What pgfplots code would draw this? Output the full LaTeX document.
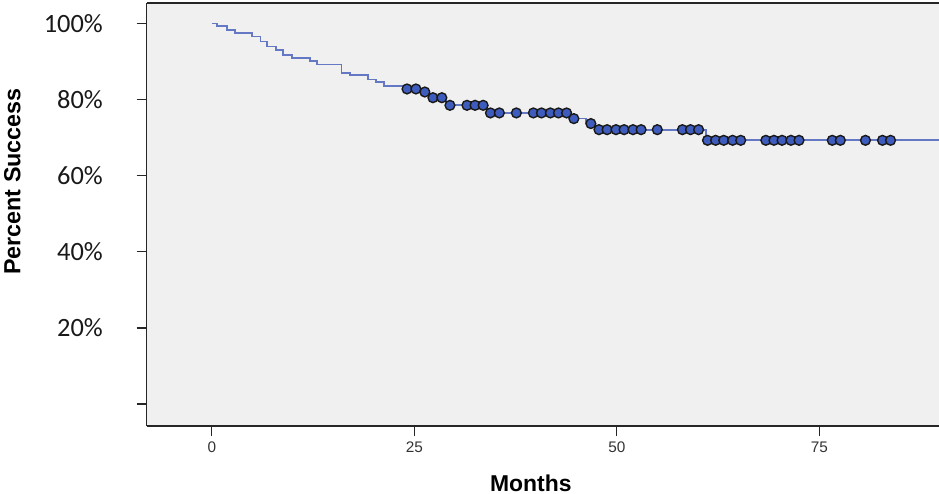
\documentclass[border=0pt]{standalone}
\usepackage{pgfplots}
\pgfplotsset{compat=1.18}
\usepackage{fontspec}
\setmainfont{Liberation Sans}
\newfontfamily\calib{Carlito}
\definecolor{kmline}{RGB}{100,120,195}
\definecolor{kmfill}{RGB}{62,92,190}
\definecolor{bg}{RGB}{240,240,240}
\begin{document}
\begin{tikzpicture}
\begin{axis}[
  scale only axis, width=792.3bp, height=423bp,
  xmin=-8.04, xmax=89.78, ymin=-5.8, ymax=105.4,
  axis x line*=bottom, axis y line*=left,
  axis line style={line width=1.3bp, black!85},
  axis background/.style={fill=bg},
  tick align=outside, major tick length=10bp,
  tick style={line width=1.3bp, black!85},
  xtick={0,25,50,75}, xticklabels={0,25,50,75},
  ytick={0,20,40,60,80,100}, yticklabels={,20\%,40\%,60\%,80\%,100\%},
  xticklabel style={font=\fontsize{15.4}{16}\selectfont, text=black!80, anchor=north, inner sep=0pt, yshift=-5.7bp},
  yticklabel style={font=\calib\fontsize{26.5}{28}\selectfont, text=black!90, anchor=east, inner sep=0pt, xshift=-33.7bp},
  xlabel={Months}, ylabel={Percent Success},
  xlabel style={font=\bfseries\fontsize{23}{25}\selectfont, at={(axis description cs:0.4848,-0.1537)}, anchor=base},
  ylabel style={font=\bfseries\fontsize{23.4}{25}\selectfont, at={(axis description cs:-0.1593,0.578)}, anchor=base, rotate=0},
  clip=true,
]
\draw[line width=1.3bp, black!85] (rel axis cs:0,1) -- (rel axis cs:1,1);
\addplot[const plot, kmline, line width=1.7bp] coordinates {
(0,100) (0.64,99.3) (1.9,98.3) (2.9,97.5) (5.0,96.6) (6.0,95.3) (6.8,94.0) (7.9,93.1) (8.8,91.8) (9.9,91.0) (12.1,90.1) (13.0,89.2) (16.0,87.0) (17.1,86.4) (19.3,85.3) (20.3,84.6) (21.3,83.6) (23.6,82.8) (25.7,82.0) (26.8,80.5) (28.9,78.5) (34.0,76.5) (44.2,75.0) (46.2,73.7) (47.3,72.1) (61.0,69.3) (90,69.3)
};
\addplot[only marks, mark=*, mark size=4.9bp, mark options={fill=kmfill, draw=black!90, line width=1.4bp}] coordinates {
(24.1,82.8) (25.2,82.8) (26.3,82.0) (27.3,80.5) (28.4,80.5) (29.4,78.5) (31.5,78.5) (32.5,78.5) (33.5,78.5) (34.4,76.5) (35.5,76.5) (37.6,76.5) (39.7,76.5) (40.7,76.5) (41.8,76.5) (42.8,76.5) (43.8,76.5) (44.7,75.0) (46.8,73.7) (47.8,72.1) (48.8,72.1) (49.9,72.1) (50.9,72.1) (52.0,72.1) (53.0,72.1) (55.0,72.1) (58.1,72.1) (59.1,72.1) (60.1,72.1) (61.2,69.3) (62.2,69.3) (63.2,69.3) (64.3,69.3) (65.3,69.3) (68.4,69.3) (69.4,69.3) (70.4,69.3) (71.5,69.3) (72.5,69.3) (76.6,69.3) (77.6,69.3) (80.7,69.3) (82.8,69.3) (83.8,69.3)
};
\end{axis}
\pgfresetboundingbox
\useasboundingbox (-146.7bp,-68bp) rectangle (792.3bp,426bp);
\end{tikzpicture}
\end{document}
